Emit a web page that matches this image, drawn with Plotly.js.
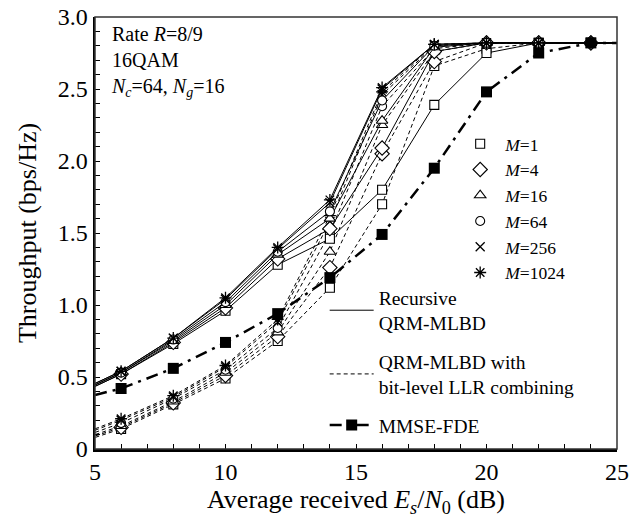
<!DOCTYPE html>
<html>
<head>
<meta charset="utf-8">
<script src="https://cdn.plot.ly/plotly-3.0.1.min.js"></script>
<style>html,body{margin:0;padding:0;background:#fff;}</style>
</head>
<body>
<div id="chart" style="width:643px;height:521px;"></div>
<script>
// Average received Es/N0 (dB)
const snr = [4, 6, 8, 10, 12, 14, 16, 18, 20, 22, 24, 26];

// Recursive QRM-MLBD (solid)
const rec_M1    = [0.35, 0.52, 0.73, 0.96, 1.28, 1.46, 1.80, 2.39, 2.75, 2.82, 2.82, 2.82];
const rec_M4    = [0.35, 0.52, 0.74, 0.98, 1.32, 1.53, 2.09, 2.76, 2.82, 2.82, 2.82, 2.82];
const rec_M16   = [0.36, 0.53, 0.75, 1.00, 1.35, 1.60, 2.28, 2.79, 2.82, 2.82, 2.82, 2.82];
const rec_M64   = [0.36, 0.53, 0.76, 1.02, 1.37, 1.65, 2.42, 2.80, 2.82, 2.82, 2.82, 2.82];
const rec_M256  = [0.37, 0.54, 0.77, 1.04, 1.39, 1.71, 2.50, 2.81, 2.82, 2.82, 2.82, 2.82];
const rec_M1024 = [0.37, 0.54, 0.77, 1.05, 1.40, 1.73, 2.51, 2.81, 2.82, 2.82, 2.82, 2.82];

// QRM-MLBD with bit-level LLR combining (dashed)
const llr_M1    = [0.02, 0.14, 0.31, 0.49, 0.75, 1.12, 1.70, 2.66, 2.78, 2.82, 2.82, 2.82];
const llr_M4    = [0.03, 0.15, 0.32, 0.51, 0.78, 1.26, 2.05, 2.69, 2.82, 2.82, 2.82, 2.82];
const llr_M16   = [0.04, 0.16, 0.33, 0.53, 0.81, 1.37, 2.25, 2.76, 2.82, 2.82, 2.82, 2.82];
const llr_M64   = [0.05, 0.18, 0.35, 0.55, 0.84, 1.50, 2.38, 2.78, 2.82, 2.82, 2.82, 2.82];
const llr_M256  = [0.06, 0.20, 0.36, 0.57, 0.88, 1.58, 2.46, 2.80, 2.82, 2.82, 2.82, 2.82];
const llr_M1024 = [0.07, 0.21, 0.37, 0.58, 0.90, 1.62, 2.48, 2.81, 2.82, 2.82, 2.82, 2.82];

// MMSE-FDE
const mmse = [0.33, 0.42, 0.56, 0.74, 0.94, 1.19, 1.49, 1.95, 2.48, 2.75, 2.82, 2.82];

const mLabels = ['<i>M</i>=1', '<i>M</i>=4', '<i>M</i>=16', '<i>M</i>=64', '<i>M</i>=256', '<i>M</i>=1024'];
const recSeries = [rec_M1, rec_M4, rec_M16, rec_M64, rec_M256, rec_M1024];
const llrSeries = [llr_M1, llr_M4, llr_M16, llr_M64, llr_M256, llr_M1024];
const symbols = ['square', 'diamond', 'triangle-up', 'circle', 'x-thin-open', 'asterisk-open'];
const sizes = [9, 11, 10, 9, 9, 10];

const yTickVals = [0, 0.5, 1.0, 1.5, 2.0, 2.5, 3.0];
const yTickText = ['0', '0.5', '1.0', '1.5', '2.0', '2.5', '3.0'];
const xTickVals = [5, 10, 15, 20, 25];
const xTickText = ['5', '10', '15', '20', '25'];

const FONT = 'Liberation Serif, Times New Roman, serif';

function mk(i) {
  const lineOnly = symbols[i].indexOf('-open') >= 0;
  return {symbol: symbols[i], size: sizes[i], color: lineOnly ? '#000' : '#fff',
          line: {color: '#000', width: lineOnly ? 1.3 : 1.1}};
}

const traces = [];
llrSeries.forEach((ys, i) => {
  traces.push({x: snr, y: ys, type: 'scatter', mode: 'lines+markers', showlegend: false,
    line: {color: '#000', width: 1, dash: '4px,3px'}, marker: mk(i), cliponaxis: true});
});
recSeries.forEach((ys, i) => {
  traces.push({x: snr, y: ys, type: 'scatter', mode: 'lines+markers', showlegend: false,
    line: {color: '#000', width: 1}, marker: mk(i), cliponaxis: true});
});
// legend entries for M
mLabels.forEach((name, i) => {
  traces.push({x: [null], y: [null], type: 'scatter', mode: 'markers', name: name,
    marker: mk(i), legend: 'legend', showlegend: true});
});
traces.push({x: [null], y: [null], type: 'scatter', mode: 'lines', name: 'Recursive<br>QRM-MLBD',
  line: {color: '#000', width: 1}, legend: 'legend2', legendgroup: 'g1', showlegend: true});
traces.push({x: [null], y: [null], type: 'scatter', mode: 'lines', name: 'QRM-MLBD with<br>bit-level LLR combining',
  line: {color: '#000', width: 1, dash: '4px,3px'}, legend: 'legend2', legendgroup: 'g2', showlegend: true});
traces.push({x: snr, y: mmse, type: 'scatter', mode: 'lines+markers', name: 'MMSE-FDE',
  line: {color: '#000', width: 2.5, dash: '12px,6px,3px,6px'},
  marker: {symbol: 'square', size: 11, color: '#000'}, legend: 'legend2', legendgroup: 'g3', showlegend: true, cliponaxis: true});

const layout = {
  width: 643, height: 521,
  margin: {l: 95, r: 26, t: 17, b: 72},
  paper_bgcolor: '#fff', plot_bgcolor: '#fff',
  font: {family: FONT, size: 20, color: '#000'},
  xaxis: {
    range: [5, 25], showgrid: false, zeroline: false,
    tickvals: xTickVals, ticktext: xTickText,
    ticks: 'inside', ticklen: 5, tickwidth: 1, tickcolor: '#000',
    minor: {dtick: 1, ticks: 'inside', ticklen: 5, tickwidth: 1, tickcolor: '#000', showgrid: false},
    showline: true, linewidth: 2.5, linecolor: '#000',
    tickfont: {family: FONT, size: 24},
    title: {text: 'Average received <i>E<sub>s</sub></i>/<i>N</i><sub>0</sub> (dB)', font: {family: FONT, size: 26}, standoff: 2}
  },
  yaxis: {
    range: [0, 3.0], showgrid: false, zeroline: false,
    tickvals: yTickVals, ticktext: yTickText,
    ticks: 'inside', ticklen: 5, tickwidth: 1, tickcolor: '#000',
    minor: {dtick: 0.1, ticks: 'inside', ticklen: 5, tickwidth: 1, tickcolor: '#000', showgrid: false},
    showline: true, linewidth: 2.5, linecolor: '#000',
    tickfont: {family: FONT, size: 24},
    title: {text: 'Throughput (bps/Hz)', font: {family: FONT, size: 26}, standoff: 14}
  },
  shapes: [{type: 'rect', xref: 'paper', yref: 'paper', x0: 0, x1: 1, y0: 0, y1: 1,
    line: {color: '#333', width: 1.5}, layer: 'above'}],
  annotations: [{
    xref: 'paper', yref: 'paper', x: 0.027, y: 0.99, xanchor: 'left', yanchor: 'top',
    align: 'left', showarrow: false,
    text: 'Rate <i>R</i>=8/9<br>16QAM<br><i>N<sub>c</sub></i>=64, <i>N<sub>g</sub></i>=16',
    font: {family: FONT, size: 20, color: '#000'}
  }],
  legend: {
    x: 0.69, y: 0.748, xanchor: 'left', yanchor: 'top',
    bgcolor: 'rgba(0,0,0,0)', borderwidth: 0, itemwidth: 40,
    font: {family: FONT, size: 17.5, color: '#000'}
  },
  legend2: {
    x: 0.44, y: 0.395, xanchor: 'left', yanchor: 'top',
    bgcolor: 'rgba(0,0,0,0)', borderwidth: 0, itemwidth: 44, traceorder: 'grouped', tracegroupgap: 10,
    font: {family: FONT, size: 19.5, color: '#000'}
  }
};

Plotly.newPlot('chart', traces, layout, {displayModeBar: false, staticPlot: true});
</script>
</body>
</html>
